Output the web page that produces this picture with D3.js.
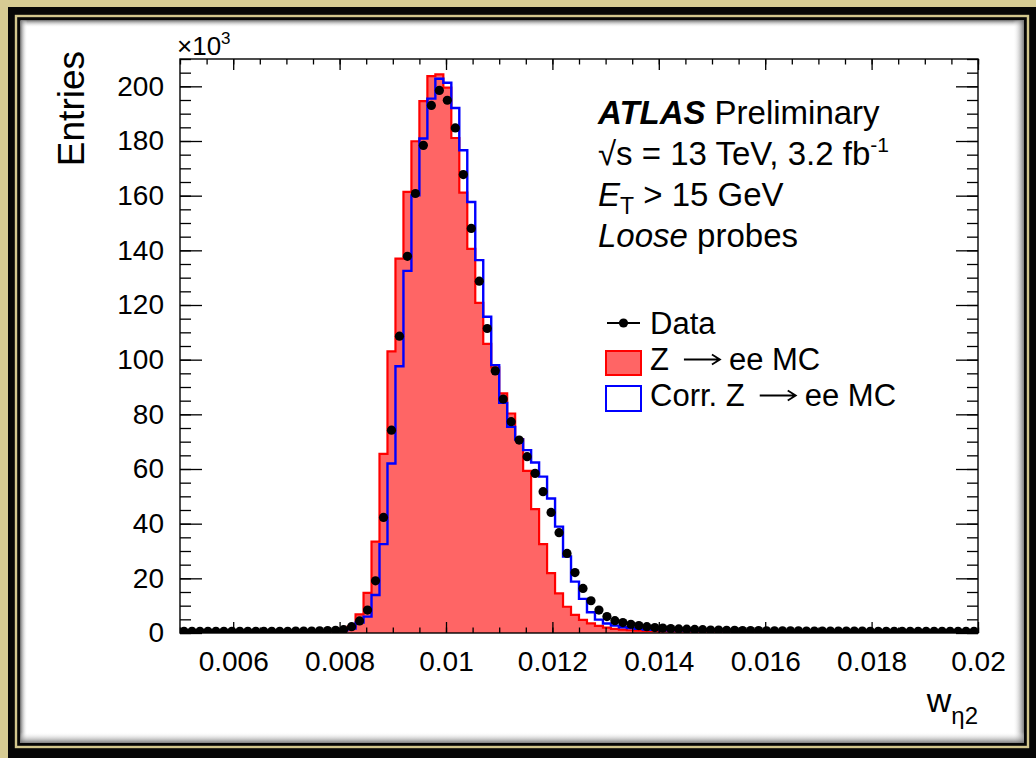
<!DOCTYPE html>
<html>
<head>
<meta charset="utf-8">
<script src="https://cdn.jsdelivr.net/npm/d3@7"></script>
<style>
  body { margin: 0; background: #d6cb93; }
  svg { display: block; font-family: "Liberation Sans", Arial, Helvetica, sans-serif; }
</style>
</head>
<body>
<div id="chart"></div>
<script>
// w_eta2 histogram, 100 bins from 0.005 to 0.02, entries in units of 10^3
const nBins = 100, wMin = 0.005, wMax = 0.02;

const dataEntries = [
  0.6, 0.6, 0.6, 0.6, 0.6, 0.6, 0.6, 0.6, 0.6, 0.6,
  0.6, 0.6, 0.6, 0.6, 0.7, 0.7, 0.7, 0.8, 0.9, 1.0,
  1.2, 2.3, 4.4, 8.4, 19.1, 42.3, 74.2, 108.6, 137.8, 160.8,
  178.4, 193.0, 198.5, 194.9, 184.8, 167.7, 148.0, 128.7, 111.4, 95.9,
  85.6, 77.3, 70.6, 64.5, 58.4, 51.7, 44.1, 36.7, 29.1, 22.1,
  16.3, 11.8, 8.4, 6.0, 4.5, 3.8, 3.2, 2.7, 2.3, 2.0,
  1.8, 1.6, 1.5, 1.4, 1.3, 1.2, 1.1, 1.1, 1.0, 1.0,
  0.9, 0.9, 0.9, 0.8, 0.8, 0.8, 0.8, 0.8, 0.7, 0.7,
  0.7, 0.7, 0.7, 0.7, 0.7, 0.7, 0.6, 0.6, 0.6, 0.6,
  0.6, 0.6, 0.6, 0.6, 0.6, 0.6, 0.6, 0.6, 0.6, 0.6
];

const mcEntries = [
  0.5, 0.5, 0.5, 0.5, 0.5, 0.5, 0.5, 0.5, 0.5, 0.5,
  0.5, 0.5, 0.5, 0.5, 0.6, 0.6, 0.6, 0.7, 0.8, 0.9,
  1.3, 2.3, 6.8, 14.7, 33.4, 65.5, 103.0, 137.0, 161.4, 179.9,
  194.6, 203.7, 204.4, 199.5, 181.1, 161.1, 140.5, 120.8, 105.8, 97.2,
  87.7, 80.3, 70.9, 59.3, 45.3, 32.5, 21.9, 14.5, 9.6, 6.6,
  4.8, 3.5, 2.6, 2.0, 1.5, 1.2, 1.0, 0.9, 0.8, 0.8,
  0.7, 0.7, 0.7, 0.6, 0.6, 0.6, 0.6, 0.6, 0.6, 0.6,
  0.5, 0.5, 0.5, 0.5, 0.5, 0.5, 0.5, 0.5, 0.5, 0.5,
  0.5, 0.5, 0.5, 0.5, 0.5, 0.5, 0.5, 0.5, 0.5, 0.5,
  0.5, 0.5, 0.5, 0.5, 0.5, 0.5, 0.5, 0.5, 0.5, 0.5
];

const corrEntries = [
  0.5, 0.5, 0.5, 0.5, 0.5, 0.5, 0.5, 0.5, 0.5, 0.5,
  0.5, 0.5, 0.5, 0.5, 0.6, 0.6, 0.6, 0.7, 0.8, 0.9,
  1.1, 1.6, 3.8, 6.0, 13.9, 32.5, 62.0, 97.6, 132.5, 160.1,
  180.9, 195.5, 202.8, 201.3, 192.1, 176.6, 157.7, 136.4, 115.7, 98.0,
  84.2, 75.4, 70.8, 66.9, 62.4, 57.2, 49.2, 38.9, 28.0, 18.8,
  12.5, 7.6, 4.9, 3.5, 2.7, 2.1, 1.8, 1.5, 1.3, 1.2,
  1.1, 1.0, 1.0, 0.9, 0.9, 0.8, 0.8, 0.8, 0.7, 0.7,
  0.7, 0.7, 0.7, 0.6, 0.6, 0.6, 0.6, 0.6, 0.6, 0.6,
  0.6, 0.6, 0.6, 0.6, 0.6, 0.6, 0.5, 0.5, 0.5, 0.5,
  0.5, 0.5, 0.5, 0.5, 0.5, 0.5, 0.5, 0.5, 0.5, 0.5
];

const xTicks = [0.006, 0.008, 0.01, 0.012, 0.014, 0.016, 0.018, 0.02];
const xTickLabels = ["0.006", "0.008", "0.01", "0.012", "0.014", "0.016", "0.018", "0.02"];
const yTicks = [0, 20, 40, 60, 80, 100, 120, 140, 160, 180, 200];
const yTickLabels = ["0", "20", "40", "60", "80", "100", "120", "140", "160", "180", "200"];
// legend labels; the second part follows a drawn arrow (ROOT #rightarrow)
const legendLabels = [["Data"], ["Z", "ee MC"], ["Corr. Z", "ee MC"]];

const width = 1036, height = 758;
const frame = { left: 180, right: 978, top: 59, bottom: 633 };

const svg = d3.select("#chart").append("svg")
    .attr("width", width)
    .attr("height", height);

const defs = svg.append("defs");

// ---- picture frame ----
svg.append("rect").attr("width", width).attr("height", height).attr("fill", "#d6cb93");
svg.append("rect").attr("x", 8).attr("y", 7).attr("width", width).attr("height", height).attr("fill", "#060606");
svg.append("rect").attr("x", 16).attr("y", 16).attr("width", 1028 - 16).attr("height", 747 - 16)
    .attr("fill", "none").attr("stroke", "#d2c68c").attr("stroke-width", 2.4);
const panel = { x0: 20.5, y0: 20.5, x1: 1024, y1: 743 };
svg.append("rect").attr("x", panel.x0).attr("y", panel.y0)
    .attr("width", panel.x1 - panel.x0).attr("height", panel.y1 - panel.y0).attr("fill", "#fff");

// inner shadow strips
const shadows = [
  { id: "shTop", x1: 0, y1: 0, x2: 0, y2: 1, x: panel.x0, y: panel.y0, w: panel.x1 - panel.x0, h: 7 },
  { id: "shLeft", x1: 0, y1: 0, x2: 1, y2: 0, x: panel.x0, y: panel.y0, w: 7, h: panel.y1 - panel.y0 },
  { id: "shRight", x1: 1, y1: 0, x2: 0, y2: 0, x: panel.x1 - 11, y: panel.y0, w: 11, h: panel.y1 - panel.y0 },
  { id: "shBottom", x1: 0, y1: 1, x2: 0, y2: 0, x: panel.x0, y: panel.y1 - 11, w: panel.x1 - panel.x0, h: 11 }
];
shadows.forEach(s => {
  const g = defs.append("linearGradient").attr("id", s.id)
      .attr("x1", s.x1).attr("y1", s.y1).attr("x2", s.x2).attr("y2", s.y2);
  g.append("stop").attr("offset", 0).attr("stop-color", "#6e6e6e").attr("stop-opacity", 0.9);
  g.append("stop").attr("offset", 1).attr("stop-color", "#ffffff").attr("stop-opacity", 0);
  svg.append("rect").attr("x", s.x).attr("y", s.y).attr("width", s.w).attr("height", s.h)
      .attr("fill", `url(#${s.id})`);
});

// ---- scales ----
const x = d3.scaleLinear().domain([wMin, wMax]).range([frame.left, frame.right]);
const y = d3.scaleLinear().domain([0, 210]).range([frame.bottom, frame.top]);

const binWidth = (wMax - wMin) / nBins;
const edges = d3.range(nBins + 1).map(i => wMin + i * binWidth);
const stepPoints = vals => vals.map((v, i) => [edges[i], v]).concat([[edges[nBins], vals[nBins - 1]]]);

defs.append("clipPath").attr("id", "plotClip").append("rect")
    .attr("x", frame.left).attr("y", frame.top)
    .attr("width", frame.right - frame.left).attr("height", frame.bottom - frame.top);

const plot = svg.append("g").attr("clip-path", "url(#plotClip)");

const area = d3.area().curve(d3.curveStepAfter)
    .x(d => x(d[0])).y0(y(0)).y1(d => y(d[1]));
const line = d3.line().curve(d3.curveStepAfter)
    .x(d => x(d[0])).y(d => y(d[1]));

// Z->ee MC, filled
plot.append("path").attr("d", area(stepPoints(mcEntries)))
    .attr("fill", "#ff6565");
plot.append("path").attr("d", line(stepPoints(mcEntries)))
    .attr("fill", "none").attr("stroke", "#ff0000").attr("stroke-width", 2.2);

// corrected MC, outline only
plot.append("path").attr("d", line(stepPoints(corrEntries)))
    .attr("fill", "none").attr("stroke", "#0000ff").attr("stroke-width", 2.4);

// data points
plot.selectAll("circle.data")
    .data(dataEntries)
    .enter().append("circle")
    .attr("class", "data")
    .attr("cx", (d, i) => x(edges[i] + binWidth / 2))
    .attr("cy", d => y(d))
    .attr("r", 4.6)
    .attr("fill", "#000");

// ---- axes (ticks inside the frame) ----
const xMinor = d3.range(0, 31).map(i => wMin + i * 0.0005);
const yMinor = d3.range(0, 43).map(i => i * 5);

function styleAxis(g) {
  g.selectAll(".domain").remove();
  g.selectAll("line").attr("stroke", "#000").attr("stroke-width", 1.3);
  g.selectAll("text").attr("fill", "#000").style("font-size", "28px")
      .style("font-family", "'Liberation Sans', Arial, sans-serif");
}

// bottom
svg.append("g").attr("transform", `translate(0,${frame.bottom})`)
    .call(d3.axisBottom(x).tickValues(xMinor).tickFormat("").tickSize(-5.5))
    .call(styleAxis);
svg.append("g").attr("transform", `translate(0,${frame.bottom})`)
    .call(d3.axisBottom(x).tickValues(xTicks).tickFormat((d, i) => xTickLabels[i]).tickSize(-11).tickPadding(18))
    .call(styleAxis);
// top
svg.append("g").attr("transform", `translate(0,${frame.top})`)
    .call(d3.axisTop(x).tickValues(xMinor).tickFormat("").tickSize(-5.5))
    .call(styleAxis);
svg.append("g").attr("transform", `translate(0,${frame.top})`)
    .call(d3.axisTop(x).tickValues(xTicks).tickFormat("").tickSize(-11))
    .call(styleAxis);
// left
svg.append("g").attr("transform", `translate(${frame.left},0)`)
    .call(d3.axisLeft(y).tickValues(yMinor.filter(v => v <= 210)).tickFormat("").tickSize(-11))
    .call(styleAxis);
svg.append("g").attr("transform", `translate(${frame.left},0)`)
    .call(d3.axisLeft(y).tickValues(yTicks).tickFormat((d, i) => yTickLabels[i]).tickSize(-22).tickPadding(16))
    .call(styleAxis);
// right
svg.append("g").attr("transform", `translate(${frame.right},0)`)
    .call(d3.axisRight(y).tickValues(yMinor.filter(v => v <= 210)).tickFormat("").tickSize(-11))
    .call(styleAxis);
svg.append("g").attr("transform", `translate(${frame.right},0)`)
    .call(d3.axisRight(y).tickValues(yTicks).tickFormat("").tickSize(-22))
    .call(styleAxis);

svg.append("rect")
    .attr("x", frame.left).attr("y", frame.top)
    .attr("width", frame.right - frame.left).attr("height", frame.bottom - frame.top)
    .attr("fill", "none").attr("stroke", "#000").attr("stroke-width", 1.4);

// x10^3 multiplier
const mult = svg.append("text").attr("x", 177).attr("y", 55).style("font-size", "26px");
mult.append("tspan").text("\u00d710");
mult.append("tspan").attr("dy", -11).style("font-size", "17px").text("3");

// axis titles
svg.append("text")
    .attr("transform", "rotate(-90)")
    .attr("x", -51).attr("y", 84)
    .attr("text-anchor", "end")
    .style("font-size", "37px")
    .text("Entries");

const xTitle = svg.append("text").attr("x", frame.right).attr("y", 712)
    .attr("text-anchor", "end").style("font-size", "34px");
xTitle.append("tspan").text("w");
xTitle.append("tspan").attr("dy", 12).style("font-size", "24px").text("\u03b72");

// ---- ATLAS label ----
const tx = 598;
const l1 = svg.append("text").attr("x", tx).attr("y", 124).style("font-size", "33px");
l1.append("tspan").style("font-weight", "bold").style("font-style", "italic").text("ATLAS");
l1.append("tspan").attr("dx", 9).text("Preliminary");

const l2 = svg.append("text").attr("x", tx).attr("y", 165).style("font-size", "33px");
l2.append("tspan").text("\u221as = 13 TeV, 3.2 fb");
l2.append("tspan").attr("dy", -13).style("font-size", "21px").text("-1");

const l3 = svg.append("text").attr("x", tx).attr("y", 206).style("font-size", "33px");
l3.append("tspan").style("font-style", "italic").text("E");
l3.append("tspan").attr("dy", 8).style("font-size", "23px").text("T");
l3.append("tspan").attr("dy", -8).text(" > 15 GeV");

const l4 = svg.append("text").attr("x", tx).attr("y", 247).style("font-size", "33px");
l4.append("tspan").style("font-style", "italic").text("Loose");
l4.append("tspan").text(" probes");

// ---- legend ----
const legendY = [334, 370, 406];
const legend = svg.append("g");
legend.append("line").attr("x1", 607).attr("x2", 640).attr("y1", legendY[0] - 11).attr("y2", legendY[0] - 11)
    .attr("stroke", "#000").attr("stroke-width", 2);
legend.append("circle").attr("cx", 623.5).attr("cy", legendY[0] - 11).attr("r", 4.6).attr("fill", "#000");
legend.append("rect").attr("x", 606).attr("y", legendY[1] - 19).attr("width", 35).attr("height", 24)
    .attr("fill", "#ff6565").attr("stroke", "#ff0000").attr("stroke-width", 2);
legend.append("rect").attr("x", 606).attr("y", legendY[2] - 20).attr("width", 35).attr("height", 25)
    .attr("fill", "#fff").attr("stroke", "#0000ff").attr("stroke-width", 2);

const arrowGap = 15, arrowLen = 36, afterGap = 9;
legendLabels.forEach((parts, i) => {
  const t = legend.append("text").attr("x", 650).attr("y", legendY[i]).style("font-size", "31px");
  const first = t.append("tspan").text(parts[0]);
  if (parts.length > 1) {
    const w1 = first.node().getComputedTextLength();
    t.append("tspan").attr("dx", arrowGap + arrowLen + afterGap).text(parts[1]);
    const ax0 = 650 + w1 + arrowGap, ax1 = ax0 + arrowLen, ay = legendY[i] - 10.5;
    legend.append("path")
        .attr("d", `M${ax0},${ay}H${ax1}M${ax1 - 8},${ay - 5}L${ax1},${ay}L${ax1 - 8},${ay + 5}`)
        .attr("fill", "none").attr("stroke", "#000").attr("stroke-width", 1.8);
  }
});
</script>
</body>
</html>
